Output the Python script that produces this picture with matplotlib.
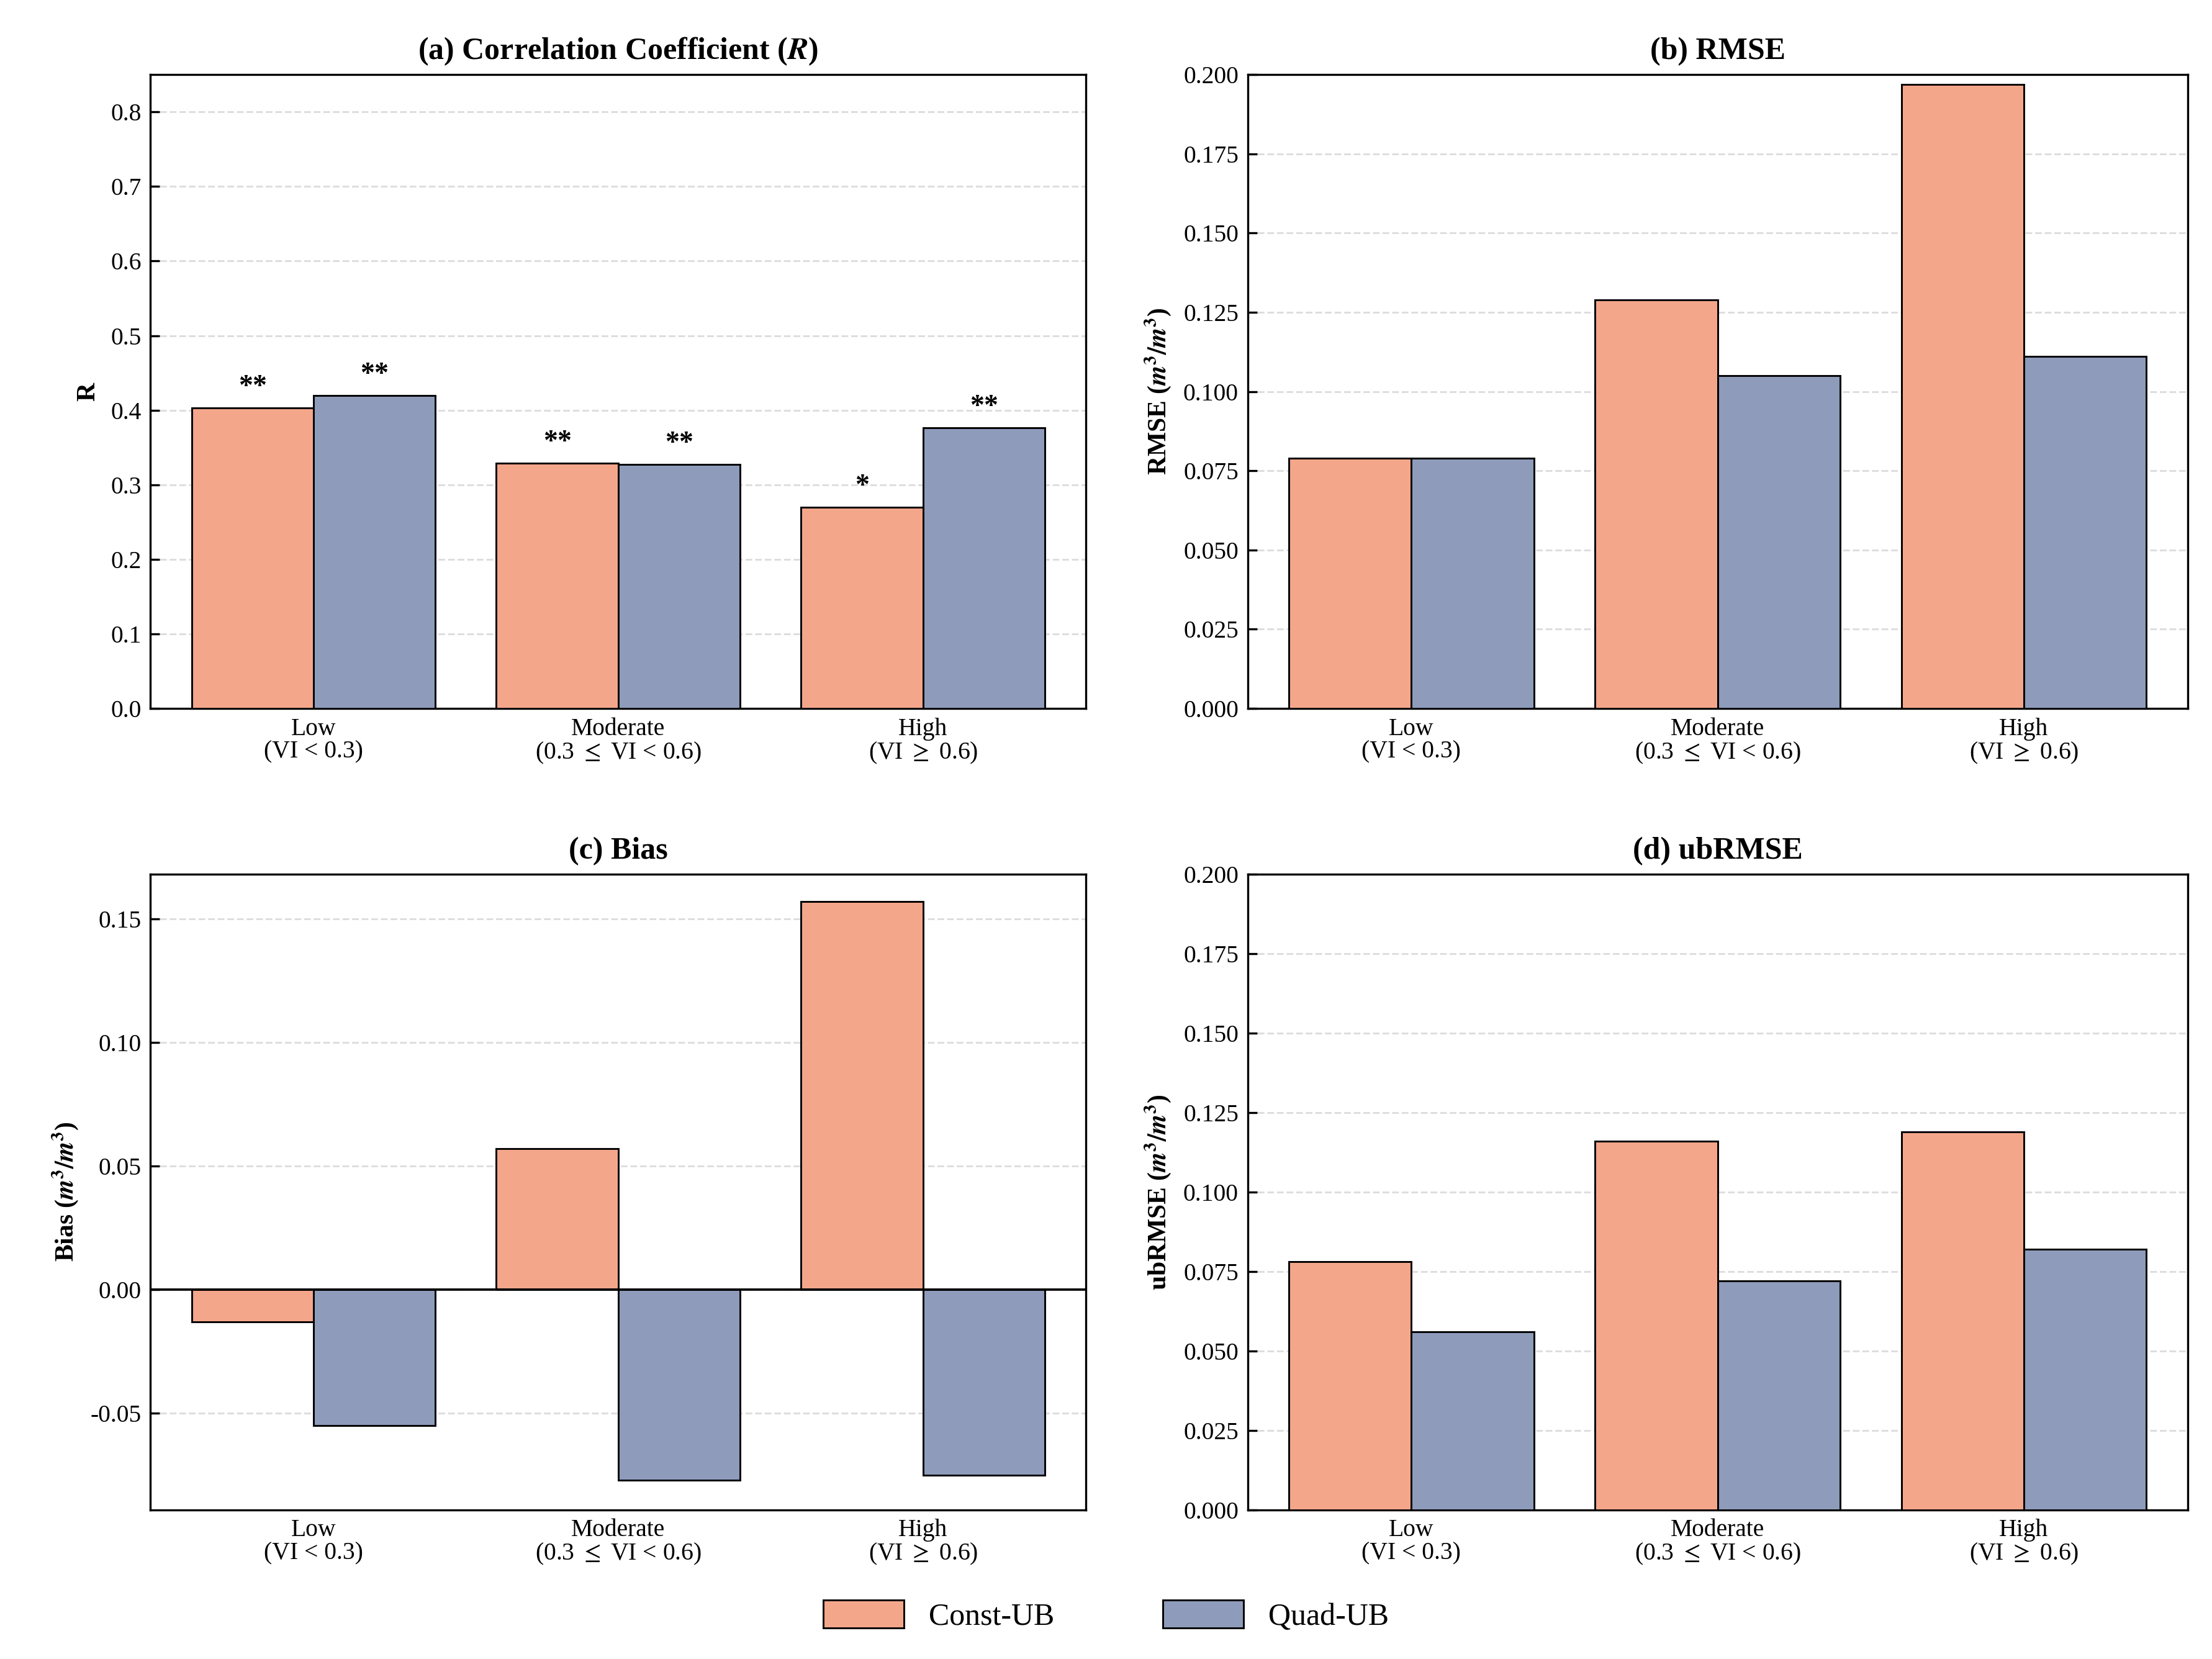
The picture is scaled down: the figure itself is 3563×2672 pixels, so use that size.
import numpy as np
import matplotlib
matplotlib.use("Agg")
import matplotlib.pyplot as plt
from matplotlib.patches import Patch

plt.rcParams['font.family'] = ['Liberation Serif', 'DejaVu Serif']
plt.rcParams['mathtext.fontset'] = 'stix'

# --- dados ---
categorias = ['Low\n(VI < 0.3)', 'Moderate\n(0.3 $\\leq$ VI < 0.6)', 'High\n(VI $\\geq$ 0.6)']
r_const = [0.403, 0.329, 0.270]
r_quad = [0.420, 0.327, 0.376]
sig_const = ['**', '**', '*']
sig_quad = ['**', '**', '**']
rmse_const = [0.079, 0.129, 0.197]
rmse_quad = [0.079, 0.105, 0.111]
bias_const = [-0.013, 0.057, 0.157]
bias_quad = [-0.055, -0.077, -0.075]
ubrmse_const = [0.078, 0.116, 0.119]
ubrmse_quad = [0.056, 0.072, 0.082]

cor_const = '#F4A68B'
cor_quad = '#8E9BBB'
w = 0.4
x = np.arange(len(categorias))

fig = plt.figure(figsize=(3563/300, 2672/300), dpi=300)
pos = {
    'a': [0.068, 0.573, 0.423, 0.382],
    'b': [0.564, 0.573, 0.425, 0.382],
    'c': [0.068, 0.090, 0.423, 0.383],
    'd': [0.564, 0.090, 0.425, 0.383],
}

def painel(chave, c, q, titulo, ylabel, ylim, yticks, fmt):
    ax = fig.add_axes(pos[chave])
    ax.bar(x - w/2, c, w, color=cor_const, edgecolor='black', lw=0.7, zorder=3)
    ax.bar(x + w/2, q, w, color=cor_quad, edgecolor='black', lw=0.7, zorder=3)
    ax.set_xlim(-0.535, 2.535)
    ax.set_ylim(*ylim)
    ax.set_yticks(yticks)
    ax.set_yticklabels([fmt % v for v in yticks])
    ax.set_xticks(x)
    ax.set_xticklabels(categorias, fontsize=9, linespacing=1.0)
    ax.tick_params(direction='in', labelsize=9.5)
    ax.tick_params(axis='x', length=0)
    ax.grid(axis='y', ls='--', color='#DDDDDD', lw=0.7, zorder=0)
    ax.set_title(titulo, fontsize=12, fontweight='bold')
    ax.set_ylabel(ylabel, fontsize=10, fontweight='bold')
    return ax

ax_a = painel('a', r_const, r_quad, '(a) Correlation Coefficient ($\\mathbfit{R}$)', 'R',
              (0, 0.85), np.arange(0, 0.81, 0.1), '%.1f')
for i in range(3):
    ax_a.text(x[i] - w/2, r_const[i] + 0.01, sig_const[i], ha='center', va='bottom', fontsize=11, fontweight='bold')
    ax_a.text(x[i] + w/2, r_quad[i] + 0.01, sig_quad[i], ha='center', va='bottom', fontsize=11, fontweight='bold')

unid = '($\\mathbfit{m}^\\mathbf{3}\\mathbf{/}\\mathbfit{m}^\\mathbf{3}$)'
painel('b', rmse_const, rmse_quad, '(b) RMSE', 'RMSE ' + unid,
       (0, 0.2), np.arange(0, 0.2001, 0.025), '%.3f')
ax_c = painel('c', bias_const, bias_quad, '(c) Bias', 'Bias ' + unid,
              (-0.089, 0.168), [-0.05, 0.0, 0.05, 0.10, 0.15], '%.2f')
ax_c.axhline(0, color='black', lw=0.9, zorder=4)
painel('d', ubrmse_const, ubrmse_quad, '(d) ubRMSE', 'ubRMSE ' + unid,
       (0, 0.2), np.arange(0, 0.2001, 0.025), '%.3f')

fig.legend(handles=[Patch(facecolor=cor_const, edgecolor='black', lw=0.7, label='Const-UB'),
                    Patch(facecolor=cor_quad, edgecolor='black', lw=0.7, label='Quad-UB')],
           loc='center', bbox_to_anchor=(0.5, 0.026), ncol=2, frameon=False,
           fontsize=12, handlelength=2.6, handleheight=1.0, columnspacing=3.5)

fig.savefig('out.png', dpi=300)
